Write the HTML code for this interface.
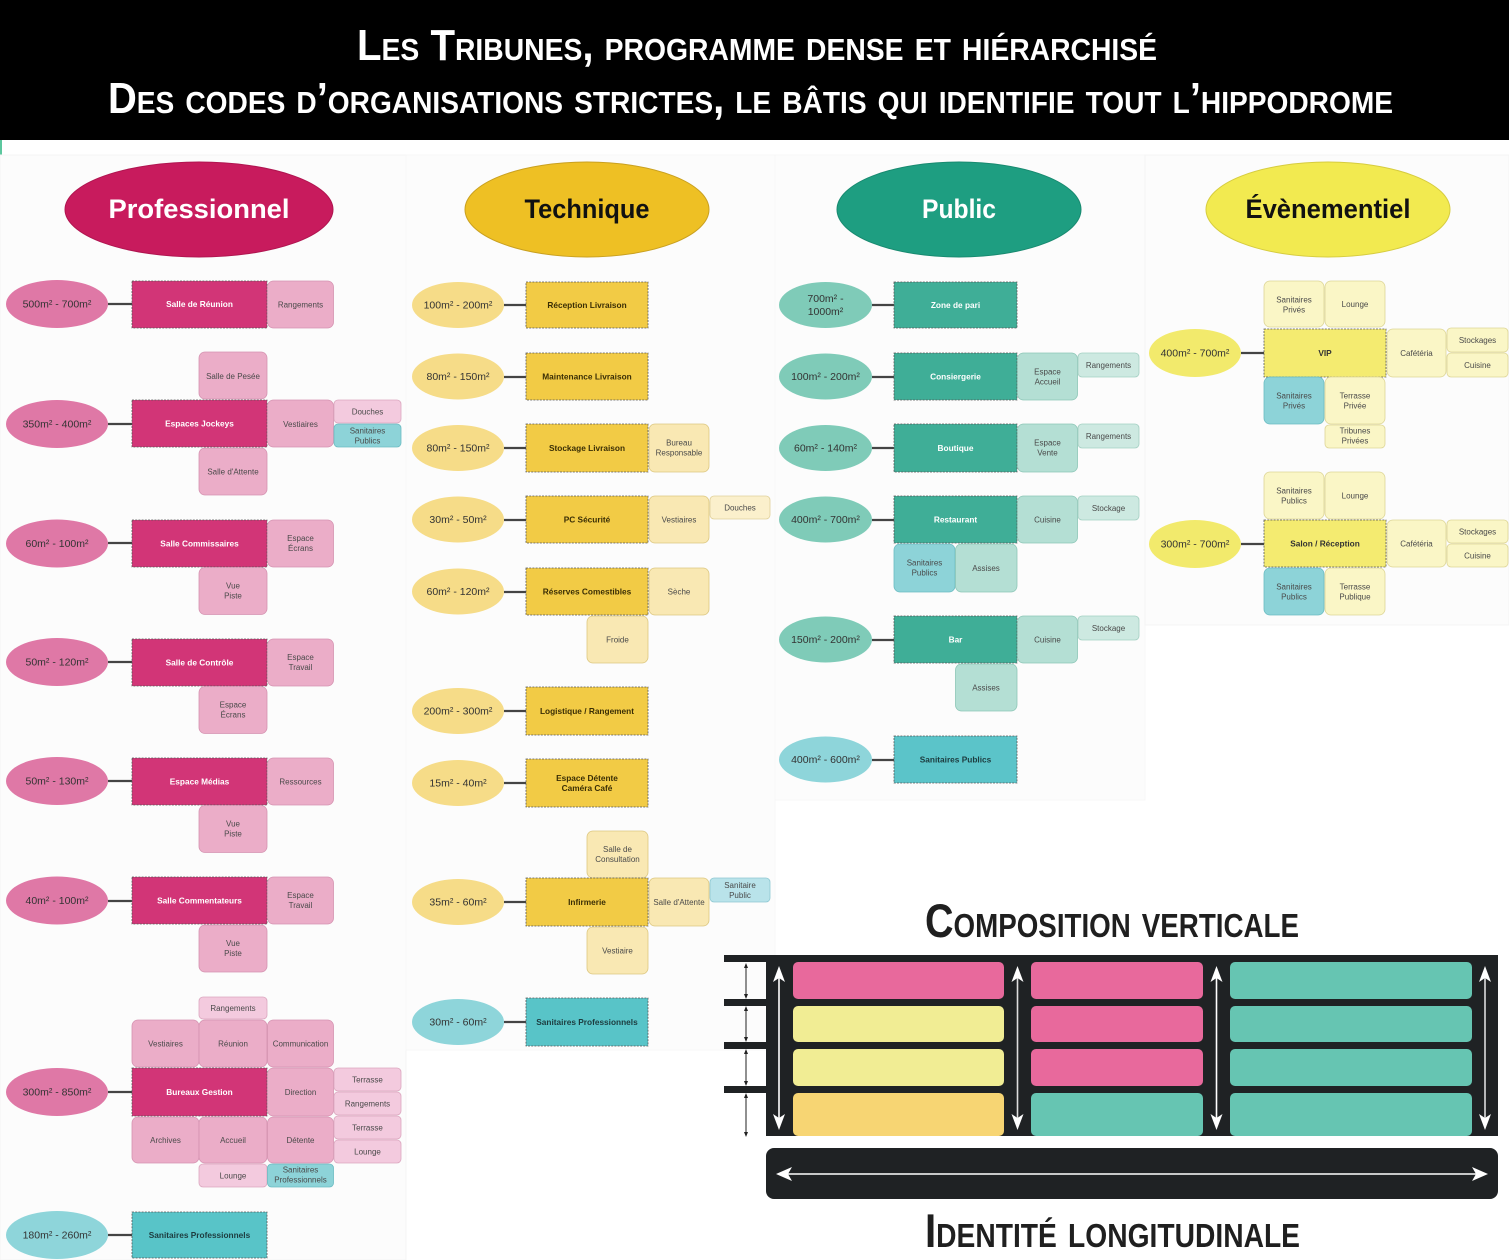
<!DOCTYPE html>
<html><head><meta charset="utf-8"><style>
html,body{margin:0;padding:0;background:#fff;width:1509px;height:1260px;overflow:hidden}
svg{display:block}
text{font-family:"Liberation Sans",Arial,sans-serif}
.e{font-size:10.5px;fill:#333;text-anchor:middle}
.m{font-size:8.3px;font-weight:bold;text-anchor:middle}
.s{font-size:8px;fill:#4a4a4a;text-anchor:middle}
.d{stroke:#555;stroke-width:0.8;stroke-dasharray:2 1.2}
.c{stroke:#444;stroke-width:2.2}
.ps{fill:#ebadc8;stroke:#d593b1;stroke-width:.8}
.pl{fill:#f3cade;stroke:#dba7bf;stroke-width:.8}
.tq{fill:#8dd3d8;stroke:#6bbcc2;stroke-width:.8}
.ys{fill:#f9e8b3;stroke:#dcc780;stroke-width:.8}
.yl{fill:#fbf0cc;stroke:#e0d09a;stroke-width:.8}
.tl{fill:#b9e3ea;stroke:#8ec8d2;stroke-width:.8}
.gs{fill:#b4dfd4;stroke:#8cc6b6;stroke-width:.8}
.gl{fill:#cde9e1;stroke:#a3cfc2;stroke-width:.8}
.vs{fill:#faf6c6;stroke:#ddd596;stroke-width:.8}
.hd{font-weight:bold;font-variant:small-caps;fill:#fff;font-size:44px}
.bt{font-weight:bold;font-variant:small-caps;fill:#1f1f1f;font-size:47px}
.ti{font-weight:bold;font-size:27px;text-anchor:middle}
</style></head><body>
<svg width="1509" height="1260" viewBox="0 0 1509 1260" xmlns="http://www.w3.org/2000/svg">
<!-- header -->
<rect x="0" y="0" width="1509" height="140" fill="#000"/>
<text class="hd" x="357" y="60" textLength="800" lengthAdjust="spacingAndGlyphs">Les Tribunes, programme dense et hiérarchisé</text>
<text class="hd" x="108" y="113" textLength="1285" lengthAdjust="spacingAndGlyphs">Des codes d’organisations strictes, le bâtis qui identifie tout l’hippodrome</text>
<rect x="0" y="140" width="2" height="15" fill="#5cc79e"/>

<!-- panels -->
<rect x="0" y="155" width="406" height="1105" fill="#fcfcfc" stroke="#f4f4f4"/>
<rect x="406" y="155" width="369" height="895" fill="#fcfcfc" stroke="#f7f7f7"/>
<rect x="775" y="155" width="370" height="645" fill="#fcfcfc" stroke="#f7f7f7"/>
<rect x="1145" y="155" width="364" height="470" fill="#fcfcfc" stroke="#f4f4f4"/>

<!-- title ellipses -->
<ellipse cx="199" cy="209.5" rx="134" ry="47.5" fill="#c81b5d" stroke="#b01550" stroke-width="1"/>
<text class="ti" x="199" y="218" fill="#fff" textLength="181" lengthAdjust="spacingAndGlyphs">Professionnel</text>
<ellipse cx="587" cy="209.5" rx="122" ry="47.5" fill="#eec024" stroke="#c9a020" stroke-width="1"/>
<text class="ti" x="587" y="218" fill="#111" textLength="125" lengthAdjust="spacingAndGlyphs">Technique</text>
<ellipse cx="959" cy="209.5" rx="122" ry="47.5" fill="#1e9e81" stroke="#188a70" stroke-width="1"/>
<text class="ti" x="959" y="218" fill="#fff" textLength="74" lengthAdjust="spacingAndGlyphs">Public</text>
<ellipse cx="1328" cy="209.5" rx="122" ry="47.5" fill="#f2ea50" stroke="#d6cc3f" stroke-width="1"/>
<text class="ti" x="1328" y="218" fill="#111" textLength="165" lengthAdjust="spacingAndGlyphs">Évènementiel</text>

<!-- ================= PROFESSIONNEL ================= -->
<g>
<line class="c" x1="108" y1="304" x2="132" y2="304"/>
<ellipse cx="57" cy="304" rx="51" ry="24" fill="#df78a6"/>
<text class="e" x="57" y="307.7">500m² - 700m²</text>
<rect x="132" y="281" width="135" height="47" fill="#d23577" class="d"/>
<text class="m" x="199.5" y="307" fill="#fff">Salle de Réunion</text>
<rect x="267.5" y="281" width="66" height="47" rx="6" class="ps"/>
<text class="s" x="300.5" y="307.4">Rangements</text>

<line class="c" x1="108" y1="424" x2="132" y2="424"/>
<ellipse cx="57" cy="424" rx="51" ry="24" fill="#df78a6"/>
<text class="e" x="57" y="427.7">350m² - 400m²</text>
<rect x="199" y="352" width="68" height="47" rx="6" class="ps"/>
<text class="s" x="233" y="378.9">Salle de Pesée</text>
<rect x="199" y="448" width="68" height="47" rx="6" class="ps"/>
<text class="s" x="233" y="474.4">Salle d'Attente</text>
<rect x="132" y="400" width="135" height="47" fill="#d23577" class="d"/>
<text class="m" x="199.5" y="426.5" fill="#fff">Espaces Jockeys</text>
<rect x="267.5" y="400" width="66" height="47" rx="6" class="ps"/>
<text class="s" x="300.5" y="426.9">Vestiaires</text>
<rect x="334" y="400" width="67" height="23" rx="4" class="pl"/>
<text class="s" x="367.5" y="414.4">Douches</text>
<rect x="334" y="424" width="67" height="23" rx="4" class="tq"/>
<text class="s" x="367.5" y="433.4">Sanitaires</text>
<text class="s" x="367.5" y="443.4">Publics</text>

<line class="c" x1="108" y1="543" x2="132" y2="543"/>
<ellipse cx="57" cy="543.5" rx="51" ry="24" fill="#df78a6"/>
<text class="e" x="57" y="547.2">60m² - 100m²</text>
<rect x="132" y="520" width="135" height="47" fill="#d23577" class="d"/>
<text class="m" x="199.5" y="546.5" fill="#fff">Salle Commissaires</text>
<rect x="267.5" y="520" width="66" height="47" rx="6" class="ps"/>
<text class="s" x="300.5" y="541.2">Espace</text>
<text class="s" x="300.5" y="551.2">Écrans</text>
<rect x="199" y="567.5" width="68" height="47" rx="6" class="ps"/>
<text class="s" x="233" y="588.7">Vue</text>
<text class="s" x="233" y="598.7">Piste</text>

<line class="c" x1="108" y1="662" x2="132" y2="662"/>
<ellipse cx="57" cy="662" rx="51" ry="24" fill="#df78a6"/>
<text class="e" x="57" y="665.7">50m² - 120m²</text>
<rect x="132" y="639" width="135" height="47" fill="#d23577" class="d"/>
<text class="m" x="199.5" y="665.5" fill="#fff">Salle de Contrôle</text>
<rect x="267.5" y="639" width="66" height="47" rx="6" class="ps"/>
<text class="s" x="300.5" y="660.2">Espace</text>
<text class="s" x="300.5" y="670.2">Travail</text>
<rect x="199" y="686.5" width="68" height="47" rx="6" class="ps"/>
<text class="s" x="233" y="707.7">Espace</text>
<text class="s" x="233" y="717.7">Écrans</text>

<line class="c" x1="108" y1="781" x2="132" y2="781"/>
<ellipse cx="57" cy="781" rx="51" ry="24" fill="#df78a6"/>
<text class="e" x="57" y="784.7">50m² - 130m²</text>
<rect x="132" y="758" width="135" height="47" fill="#d23577" class="d"/>
<text class="m" x="199.5" y="784.5" fill="#fff">Espace Médias</text>
<rect x="267.5" y="758" width="66" height="47" rx="6" class="ps"/>
<text class="s" x="300.5" y="784.4">Ressources</text>
<rect x="199" y="805.5" width="68" height="47" rx="6" class="ps"/>
<text class="s" x="233" y="826.7">Vue</text>
<text class="s" x="233" y="836.7">Piste</text>

<line class="c" x1="108" y1="901" x2="132" y2="901"/>
<ellipse cx="57" cy="900.5" rx="51" ry="24" fill="#df78a6"/>
<text class="e" x="57" y="904.2">40m² - 100m²</text>
<rect x="132" y="877" width="135" height="47" fill="#d23577" class="d"/>
<text class="m" x="199.5" y="903.5" fill="#fff">Salle Commentateurs</text>
<rect x="267.5" y="877" width="66" height="47" rx="6" class="ps"/>
<text class="s" x="300.5" y="898.2">Espace</text>
<text class="s" x="300.5" y="908.2">Travail</text>
<rect x="199" y="925" width="68" height="47" rx="6" class="ps"/>
<text class="s" x="233" y="946.2">Vue</text>
<text class="s" x="233" y="956.2">Piste</text>

<line class="c" x1="108" y1="1092" x2="132" y2="1092"/>
<ellipse cx="57" cy="1092" rx="51" ry="24" fill="#df78a6"/>
<text class="e" x="57" y="1095.7">300m² - 850m²</text>
<rect x="199" y="997" width="68" height="22" rx="4" class="pl"/>
<text class="s" x="233" y="1010.9">Rangements</text>
<rect x="132" y="1020" width="67" height="47" rx="6" class="ps"/>
<text class="s" x="165.5" y="1046.4">Vestiaires</text>
<rect x="199" y="1020" width="68" height="47" rx="6" class="ps"/>
<text class="s" x="233" y="1046.4">Réunion</text>
<rect x="267.5" y="1020" width="66" height="47" rx="6" class="ps"/>
<text class="s" x="300.5" y="1046.4">Communication</text>
<rect x="132" y="1068" width="135" height="48" fill="#d23577" class="d"/>
<text class="m" x="199.5" y="1095" fill="#fff">Bureaux Gestion</text>
<rect x="267.5" y="1068" width="66" height="48" rx="6" class="ps"/>
<text class="s" x="300.5" y="1094.9">Direction</text>
<rect x="334" y="1068" width="67" height="23" rx="4" class="pl"/>
<text class="s" x="367.5" y="1082.4">Terrasse</text>
<rect x="334" y="1092" width="67" height="23" rx="4" class="pl"/>
<text class="s" x="367.5" y="1106.4">Rangements</text>
<rect x="132" y="1117" width="67" height="46" rx="6" class="ps"/>
<text class="s" x="165.5" y="1142.9">Archives</text>
<rect x="199" y="1117" width="68" height="46" rx="6" class="ps"/>
<text class="s" x="233" y="1142.9">Accueil</text>
<rect x="267.5" y="1117" width="66" height="46" rx="6" class="ps"/>
<text class="s" x="300.5" y="1142.9">Détente</text>
<rect x="334" y="1116" width="67" height="23" rx="4" class="pl"/>
<text class="s" x="367.5" y="1130.4">Terrasse</text>
<rect x="334" y="1140" width="67" height="23" rx="4" class="pl"/>
<text class="s" x="367.5" y="1154.4">Lounge</text>
<rect x="199" y="1164" width="68" height="23" rx="4" class="pl"/>
<text class="s" x="233" y="1178.4">Lounge</text>
<rect x="267.5" y="1164" width="66" height="23" rx="4" class="tq"/>
<text class="s" x="300.5" y="1172.7">Sanitaires</text>
<text class="s" x="300.5" y="1182.7">Professionnels</text>

<line class="c" x1="108" y1="1235" x2="132" y2="1235"/>
<ellipse cx="57" cy="1235" rx="51" ry="24" fill="#8ed5da"/>
<text class="e" x="57" y="1238.7">180m² - 260m²</text>
<rect x="132" y="1212" width="135" height="46" fill="#58c4c8" class="d"/>
<text class="m" x="199.5" y="1238" fill="#1d3b3e">Sanitaires Professionnels</text>
</g>

<!-- ================= TECHNIQUE ================= -->
<g>
<line class="c" x1="504" y1="305" x2="526" y2="305"/>
<ellipse cx="458" cy="305" rx="46" ry="23" fill="#f6dc88"/>
<text class="e" x="458" y="308.7">100m² - 200m²</text>
<rect x="526" y="282" width="122" height="46" fill="#f2cb45" class="d"/>
<text class="m" x="587" y="308" fill="#3a2e05">Réception Livraison</text>

<line class="c" x1="504" y1="377" x2="526" y2="377"/>
<ellipse cx="458" cy="376.5" rx="46" ry="23" fill="#f6dc88"/>
<text class="e" x="458" y="380.2">80m² - 150m²</text>
<rect x="526" y="353" width="122" height="47" fill="#f2cb45" class="d"/>
<text class="m" x="587" y="379.5" fill="#3a2e05">Maintenance Livraison</text>

<line class="c" x1="504" y1="448" x2="526" y2="448"/>
<ellipse cx="458" cy="448" rx="46" ry="23" fill="#f6dc88"/>
<text class="e" x="458" y="451.7">80m² - 150m²</text>
<rect x="526" y="424" width="122" height="48" fill="#f2cb45" class="d"/>
<text class="m" x="587" y="451" fill="#3a2e05">Stockage Livraison</text>
<rect x="649" y="424" width="60" height="48" rx="6" class="ys"/>
<text class="s" x="679" y="445.7">Bureau</text>
<text class="s" x="679" y="455.7">Responsable</text>

<line class="c" x1="504" y1="520" x2="526" y2="520"/>
<ellipse cx="458" cy="519.5" rx="46" ry="23" fill="#f6dc88"/>
<text class="e" x="458" y="523.2">30m² - 50m²</text>
<rect x="526" y="496" width="122" height="47" fill="#f2cb45" class="d"/>
<text class="m" x="587" y="522.5" fill="#3a2e05">PC Sécurité</text>
<rect x="649" y="496" width="60" height="47" rx="6" class="ys"/>
<text class="s" x="679" y="522.4">Vestiaires</text>
<rect x="710" y="496" width="60" height="23" rx="4" class="yl"/>
<text class="s" x="740" y="510.4">Douches</text>

<line class="c" x1="504" y1="592" x2="526" y2="592"/>
<ellipse cx="458" cy="591.5" rx="46" ry="23" fill="#f6dc88"/>
<text class="e" x="458" y="595.2">60m² - 120m²</text>
<rect x="526" y="568" width="122" height="47" fill="#f2cb45" class="d"/>
<text class="m" x="587" y="594.5" fill="#3a2e05">Réserves Comestibles</text>
<rect x="649" y="568" width="60" height="47" rx="6" class="ys"/>
<text class="s" x="679" y="594.4">Sèche</text>
<rect x="587" y="616" width="61" height="47" rx="6" class="ys"/>
<text class="s" x="617.5" y="642.4">Froide</text>

<line class="c" x1="504" y1="711" x2="526" y2="711"/>
<ellipse cx="458" cy="711" rx="46" ry="23" fill="#f6dc88"/>
<text class="e" x="458" y="714.7">200m² - 300m²</text>
<rect x="526" y="687" width="122" height="48" fill="#f2cb45" class="d"/>
<text class="m" x="587" y="714" fill="#3a2e05">Logistique / Rangement</text>

<line class="c" x1="504" y1="783" x2="526" y2="783"/>
<ellipse cx="458" cy="783" rx="46" ry="23" fill="#f6dc88"/>
<text class="e" x="458" y="786.7">15m² - 40m²</text>
<rect x="526" y="759" width="122" height="48" fill="#f2cb45" class="d"/>
<text class="m" x="587" y="781" fill="#3a2e05">Espace Détente</text>
<text class="m" x="587" y="791" fill="#3a2e05">Caméra Café</text>

<line class="c" x1="504" y1="902" x2="526" y2="902"/>
<ellipse cx="458" cy="902" rx="46" ry="23" fill="#f6dc88"/>
<text class="e" x="458" y="905.7">35m² - 60m²</text>
<rect x="587" y="831" width="61" height="47" rx="6" class="ys"/>
<text class="s" x="617.5" y="852.2">Salle de</text>
<text class="s" x="617.5" y="862.2">Consultation</text>
<rect x="526" y="878" width="122" height="48" fill="#f2cb45" class="d"/>
<text class="m" x="587" y="905" fill="#3a2e05">Infirmerie</text>
<rect x="649" y="878" width="60" height="48" rx="6" class="ys"/>
<text class="s" x="679" y="904.9">Salle d'Attente</text>
<rect x="710" y="878" width="60" height="24" rx="4" class="tl"/>
<text class="s" x="740" y="888.2">Sanitaire</text>
<text class="s" x="740" y="898.2">Public</text>
<rect x="587" y="927" width="61" height="47" rx="6" class="ys"/>
<text class="s" x="617.5" y="953.4">Vestiaire</text>

<line class="c" x1="504" y1="1022" x2="526" y2="1022"/>
<ellipse cx="458" cy="1022" rx="46" ry="23" fill="#8ed5da"/>
<text class="e" x="458" y="1025.7">30m² - 60m²</text>
<rect x="526" y="998" width="122" height="48" fill="#58c4c8" class="d"/>
<text class="m" x="587" y="1025" fill="#1d3b3e">Sanitaires Professionnels</text>
</g>

<!-- ================= PUBLIC ================= -->
<g>
<line class="c" x1="872" y1="305" x2="894" y2="305"/>
<ellipse cx="825.5" cy="305" rx="46.5" ry="23" fill="#7fcbb8"/>
<text class="e" x="825.5" y="301.8">700m² -</text>
<text class="e" x="825.5" y="315.2">1000m²</text>
<rect x="894" y="282" width="123" height="46" fill="#3fae97" class="d"/>
<text class="m" x="955.5" y="308" fill="#fff">Zone de pari</text>

<line class="c" x1="872" y1="377" x2="894" y2="377"/>
<ellipse cx="825.5" cy="376.5" rx="46.5" ry="23" fill="#7fcbb8"/>
<text class="e" x="825.5" y="380.2">100m² - 200m²</text>
<rect x="894" y="353" width="123" height="47" fill="#3fae97" class="d"/>
<text class="m" x="955.5" y="379.5" fill="#fff">Consiergerie</text>
<rect x="1017.5" y="353" width="60" height="47" rx="6" class="gs"/>
<text class="s" x="1047.5" y="374.4">Espace</text>
<text class="s" x="1047.5" y="384.4">Accueil</text>
<rect x="1078" y="353" width="61" height="24" rx="4" class="gl"/>
<text class="s" x="1108.5" y="367.9">Rangements</text>

<line class="c" x1="872" y1="448" x2="894" y2="448"/>
<ellipse cx="825.5" cy="448" rx="46.5" ry="23" fill="#7fcbb8"/>
<text class="e" x="825.5" y="451.7">60m² - 140m²</text>
<rect x="894" y="424" width="123" height="48" fill="#3fae97" class="d"/>
<text class="m" x="955.5" y="451" fill="#fff">Boutique</text>
<rect x="1017.5" y="424" width="60" height="48" rx="6" class="gs"/>
<text class="s" x="1047.5" y="445.7">Espace</text>
<text class="s" x="1047.5" y="455.7">Vente</text>
<rect x="1078" y="424" width="61" height="24" rx="4" class="gl"/>
<text class="s" x="1108.5" y="438.9">Rangements</text>

<line class="c" x1="872" y1="520" x2="894" y2="520"/>
<ellipse cx="825.5" cy="519.5" rx="46.5" ry="23" fill="#7fcbb8"/>
<text class="e" x="825.5" y="523.2">400m² - 700m²</text>
<rect x="894" y="496" width="123" height="47" fill="#3fae97" class="d"/>
<text class="m" x="955.5" y="522.5" fill="#fff">Restaurant</text>
<rect x="1017.5" y="496" width="60" height="47" rx="6" class="gs"/>
<text class="s" x="1047.5" y="522.4">Cuisine</text>
<rect x="1078" y="496" width="61" height="24" rx="4" class="gl"/>
<text class="s" x="1108.5" y="510.9">Stockage</text>
<rect x="894" y="544" width="61" height="48" rx="6" class="tq"/>
<text class="s" x="924.5" y="565.7">Sanitaires</text>
<text class="s" x="924.5" y="575.7">Publics</text>
<rect x="955.5" y="544" width="61.5" height="48" rx="6" class="gs"/>
<text class="s" x="986" y="570.9">Assises</text>

<line class="c" x1="872" y1="640" x2="894" y2="640"/>
<ellipse cx="825.5" cy="639.5" rx="46.5" ry="23" fill="#7fcbb8"/>
<text class="e" x="825.5" y="643.2">150m² - 200m²</text>
<rect x="894" y="616" width="123" height="47" fill="#3fae97" class="d"/>
<text class="m" x="955.5" y="642.5" fill="#fff">Bar</text>
<rect x="1017.5" y="616" width="60" height="47" rx="6" class="gs"/>
<text class="s" x="1047.5" y="642.4">Cuisine</text>
<rect x="1078" y="616" width="61" height="24" rx="4" class="gl"/>
<text class="s" x="1108.5" y="630.9">Stockage</text>
<rect x="955.5" y="664" width="61.5" height="47" rx="6" class="gs"/>
<text class="s" x="986" y="690.4">Assises</text>

<line class="c" x1="872" y1="760" x2="894" y2="760"/>
<ellipse cx="825.5" cy="759.5" rx="46.5" ry="23" fill="#8ed5da"/>
<text class="e" x="825.5" y="763.2">400m² - 600m²</text>
<rect x="894" y="736" width="123" height="47" fill="#5bc4c9" class="d"/>
<text class="m" x="955.5" y="762.5" fill="#1d3b3e">Sanitaires Publics</text>
</g>

<!-- ================= EVENEMENTIEL ================= -->
<g>
<line class="c" x1="1241" y1="353" x2="1264" y2="353"/>
<ellipse cx="1195" cy="353" rx="46" ry="24" fill="#f2ea6c"/>
<text class="e" x="1195" y="356.7">400m² - 700m²</text>
<rect x="1264" y="281" width="60" height="46" rx="6" class="vs"/>
<text class="s" x="1294" y="302.7">Sanitaires</text>
<text class="s" x="1294" y="312.7">Privés</text>
<rect x="1325" y="281" width="60" height="46" rx="6" class="vs"/>
<text class="s" x="1355" y="306.9">Lounge</text>
<rect x="1264" y="329" width="122" height="48" fill="#f4eb70" class="d"/>
<text class="m" x="1325" y="356" fill="#333">VIP</text>
<rect x="1387" y="329" width="59" height="48" rx="6" class="vs"/>
<text class="s" x="1416.5" y="355.9">Cafétéria</text>
<rect x="1447" y="328" width="61" height="24" rx="4" class="vs"/>
<text class="s" x="1477.5" y="342.9">Stockages</text>
<rect x="1447" y="353" width="61" height="24" rx="4" class="vs"/>
<text class="s" x="1477.5" y="367.9">Cuisine</text>
<rect x="1264" y="377" width="60" height="47" rx="6" class="tq"/>
<text class="s" x="1294" y="398.4">Sanitaires</text>
<text class="s" x="1294" y="408.4">Privés</text>
<rect x="1325" y="377" width="60" height="47" rx="6" class="vs"/>
<text class="s" x="1355" y="398.4">Terrasse</text>
<text class="s" x="1355" y="408.4">Privée</text>
<rect x="1325" y="425" width="60" height="23" rx="4" class="vs"/>
<text class="s" x="1355" y="433.7">Tribunes</text>
<text class="s" x="1355" y="443.7">Privées</text>

<line class="c" x1="1241" y1="544" x2="1264" y2="544"/>
<ellipse cx="1195" cy="544" rx="46" ry="24" fill="#f2ea6c"/>
<text class="e" x="1195" y="547.7">300m² - 700m²</text>
<rect x="1264" y="472" width="60" height="47" rx="6" class="vs"/>
<text class="s" x="1294" y="493.7">Sanitaires</text>
<text class="s" x="1294" y="503.7">Publics</text>
<rect x="1325" y="472" width="60" height="47" rx="6" class="vs"/>
<text class="s" x="1355" y="498.4">Lounge</text>
<rect x="1264" y="520" width="122" height="47" fill="#f4eb70" class="d"/>
<text class="m" x="1325" y="546.5" fill="#333">Salon / Réception</text>
<rect x="1387" y="520" width="59" height="47" rx="6" class="vs"/>
<text class="s" x="1416.5" y="546.4">Cafétéria</text>
<rect x="1447" y="520" width="61" height="23" rx="4" class="vs"/>
<text class="s" x="1477.5" y="534.4">Stockages</text>
<rect x="1447" y="544" width="61" height="23" rx="4" class="vs"/>
<text class="s" x="1477.5" y="558.4">Cuisine</text>
<rect x="1264" y="568" width="60" height="47" rx="6" class="tq"/>
<text class="s" x="1294" y="589.7">Sanitaires</text>
<text class="s" x="1294" y="599.7">Publics</text>
<rect x="1325" y="568" width="60" height="47" rx="6" class="vs"/>
<text class="s" x="1355" y="589.7">Terrasse</text>
<text class="s" x="1355" y="599.7">Publique</text>
</g>

<!-- ================= COMPOSITION VERTICALE ================= -->
<text class="bt" x="925" y="937" textLength="374" lengthAdjust="spacingAndGlyphs">Composition verticale</text>

<rect x="724" y="955" width="774" height="7" fill="#1f2224"/>
<rect x="766" y="955" width="732" height="181" fill="#1f2224"/>
<rect x="724" y="999" width="42" height="7" fill="#1f2224"/>
<rect x="724" y="1042" width="42" height="7" fill="#1f2224"/>
<rect x="724" y="1086" width="42" height="7" fill="#1f2224"/>

<rect x="793" y="962" width="211" height="37" rx="5" fill="#e8699c"/>
<rect x="793" y="1006" width="211" height="36" rx="5" fill="#f1ed94"/>
<rect x="793" y="1049" width="211" height="37" rx="5" fill="#f1ed94"/>
<rect x="793" y="1093" width="211" height="43" rx="5" fill="#f7d573"/>
<rect x="1031" y="962" width="172" height="37" rx="5" fill="#e8699c"/>
<rect x="1031" y="1006" width="172" height="36" rx="5" fill="#e8699c"/>
<rect x="1031" y="1049" width="172" height="37" rx="5" fill="#e8699c"/>
<rect x="1031" y="1093" width="172" height="43" rx="5" fill="#66c5b2"/>
<rect x="1230" y="962" width="242" height="37" rx="5" fill="#66c5b2"/>
<rect x="1230" y="1006" width="242" height="36" rx="5" fill="#66c5b2"/>
<rect x="1230" y="1049" width="242" height="37" rx="5" fill="#66c5b2"/>
<rect x="1230" y="1093" width="242" height="43" rx="5" fill="#66c5b2"/>

<g fill="#fff" stroke="none">
<polygon points="779,966 773,982 779,978 785,982"/><polygon points="779,1130 773,1114 779,1118 785,1114"/>
<polygon points="1017.5,966 1011.5,982 1017.5,978 1023.5,982"/><polygon points="1017.5,1130 1011.5,1114 1017.5,1118 1023.5,1114"/>
<polygon points="1216.5,966 1210.5,982 1216.5,978 1222.5,982"/><polygon points="1216.5,1130 1210.5,1114 1216.5,1118 1222.5,1114"/>
<polygon points="1485,966 1479,982 1485,978 1491,982"/><polygon points="1485,1130 1479,1114 1485,1118 1491,1114"/>
</g>
<g stroke="#fff" stroke-width="1.6">
<line x1="779" y1="978" x2="779" y2="1118"/>
<line x1="1017.5" y1="978" x2="1017.5" y2="1118" stroke="#ddd"/>
<line x1="1216.5" y1="978" x2="1216.5" y2="1118"/>
<line x1="1485" y1="978" x2="1485" y2="1118" stroke="#ddd"/>
</g>

<g stroke="#222" stroke-width="1">
<line x1="746" y1="965" x2="746" y2="997"/>
<line x1="746" y1="1008" x2="746" y2="1040"/>
<line x1="746" y1="1051" x2="746" y2="1084"/>
<line x1="746" y1="1095" x2="746" y2="1135"/>
</g>
<g fill="#222">
<polygon points="746,963 744,968 748,968"/><polygon points="746,999 744,994 748,994"/>
<polygon points="746,1006 744,1011 748,1011"/><polygon points="746,1042 744,1037 748,1037"/>
<polygon points="746,1049 744,1054 748,1054"/><polygon points="746,1086 744,1081 748,1081"/>
<polygon points="746,1093 744,1098 748,1098"/><polygon points="746,1137 744,1132 748,1132"/>
</g>

<rect x="766" y="1148" width="732" height="51" rx="8" fill="#1f2224"/>
<line x1="788" y1="1174" x2="1476" y2="1174" stroke="#fff" stroke-width="1.6"/>
<polygon points="776,1174 792,1167 788,1174 792,1181" fill="#fff"/>
<polygon points="1488,1174 1472,1167 1476,1174 1472,1181" fill="#fff"/>

<text class="bt" x="925" y="1247" textLength="375" lengthAdjust="spacingAndGlyphs">Identité longitudinale</text>
</svg>
</body></html>
